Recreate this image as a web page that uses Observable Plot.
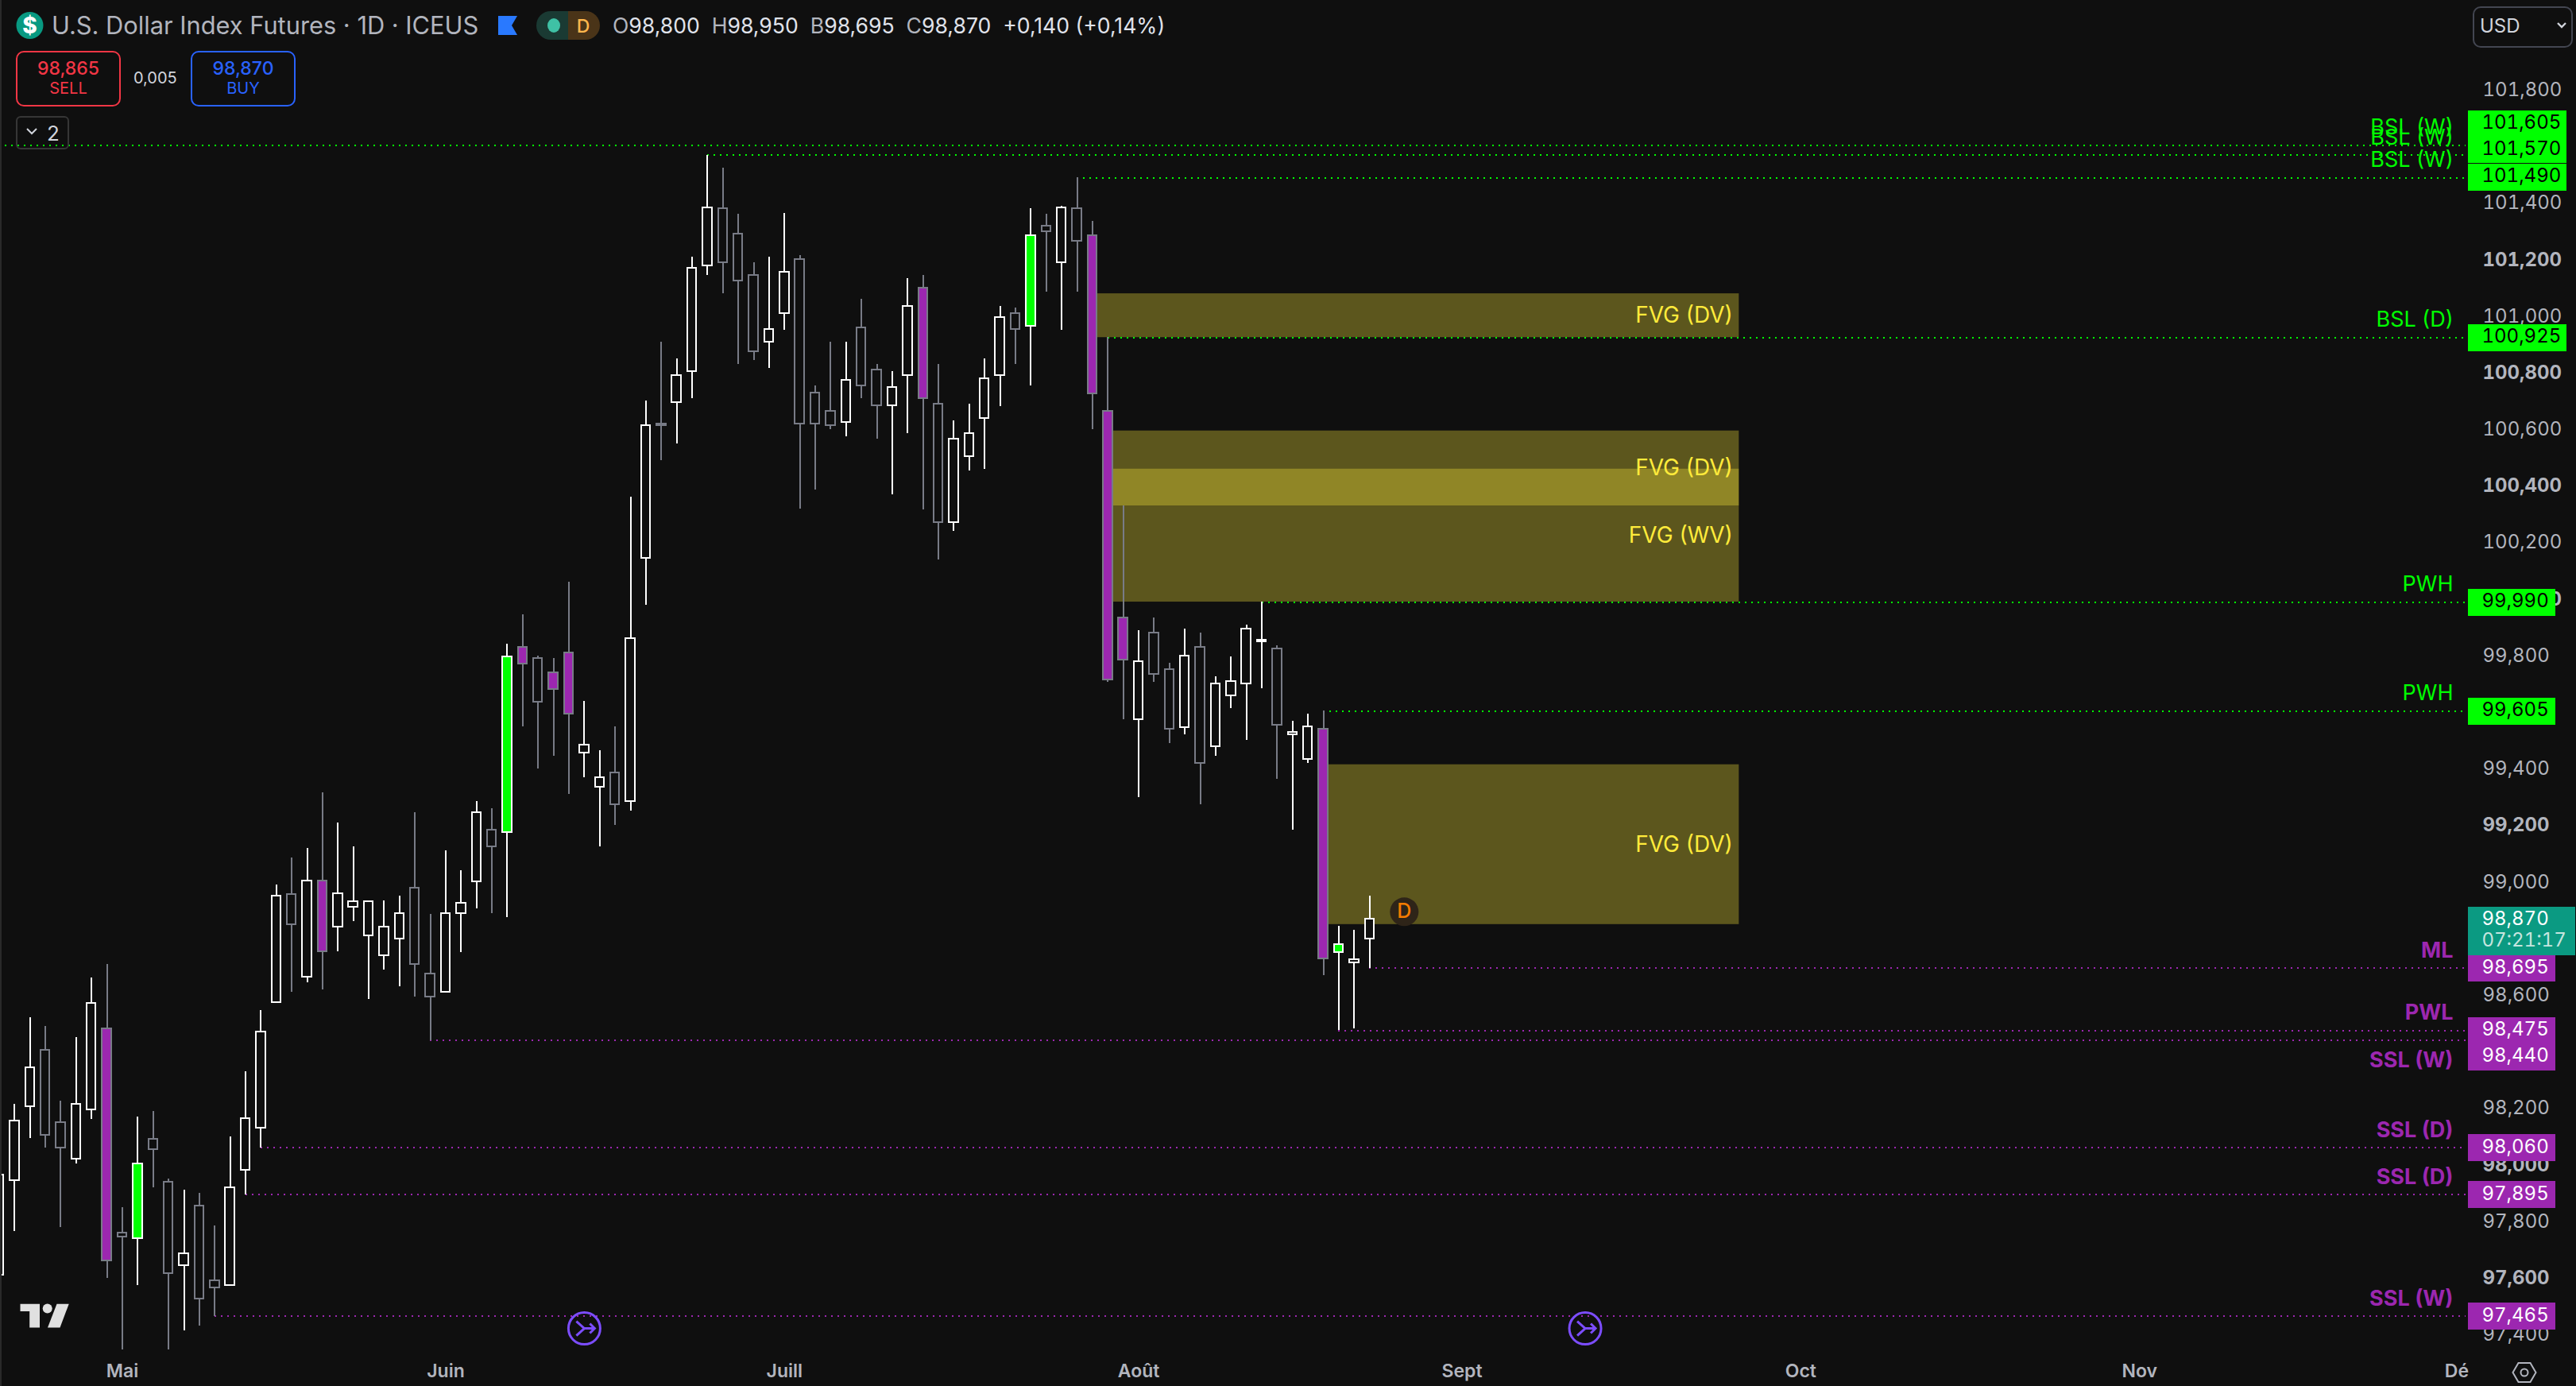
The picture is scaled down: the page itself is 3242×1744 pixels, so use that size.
<!DOCTYPE html>
<html lang="fr">
<head>
<meta charset="utf-8">
<title>U.S. Dollar Index Futures</title>
<script src="https://cdn.jsdelivr.net/npm/d3@7"></script>
<script src="https://cdn.jsdelivr.net/npm/@observablehq/plot@0.6"></script>
<style>
  html,body{margin:0;padding:0;background:#0f0f0f;}
  #stage{position:relative;width:3242px;height:1744px;overflow:hidden;font-family:Inter,"Noto Sans",sans-serif;}
  #stage svg{display:block;}
  .abs{position:absolute;white-space:nowrap;}
</style>
</head>
<body>
<div id="stage">
  <div id="chart"></div>

  <div class="abs" style="left:0;top:0;width:2px;height:1744px;background:#2a2a2a;"></div>
  <svg class="abs" style="left:0;top:0" width="760" height="60" viewBox="0 0 760 60">
    <circle cx="37.5" cy="32" r="17" fill="#089981"/>
    <text x="37.5" y="42" font-size="28" font-weight="800" fill="#fff" text-anchor="middle" font-family="Inter">$</text>
    <path d="M627 20H651L644 32L651 44H627Z" fill="#2979ff"/>
    <path d="M715 14H693A18 18 0 0 0 693 50H715Z" fill="#1a3a33"/>
    <path d="M715 14H737A18 18 0 0 1 737 50H715Z" fill="#4a3418"/>
    <ellipse cx="697" cy="32" rx="8" ry="9" fill="#3fc1a5"/>
    <text x="734" y="41" font-size="23" font-weight="500" fill="#ffb74d" text-anchor="middle" font-family="Inter">D</text>
  </svg>
  <div class="abs" style="left:65px;top:15px;font-size:30.8px;line-height:34px;color:#b2b5be;">U.S. Dollar Index Futures · 1D · ICEUS</div>
  <div class="abs" style="left:771px;top:17px;font-size:26.6px;line-height:30px;color:#e0e3eb;">
    <span style="color:#b2b5be">O</span>98,800&nbsp;<span style="color:#b2b5be"> H</span>98,950&nbsp;<span style="color:#b2b5be"> B</span>98,695&nbsp;<span style="color:#b2b5be"> C</span>98,870&nbsp; +0,140 (+0,14%)
  </div>

  <div class="abs" style="left:20px;top:64px;width:128px;height:66px;border:2px solid #f23645;border-radius:10px;text-align:center;color:#f23645;">
    <div style="font-size:23px;line-height:26px;margin-top:7px;font-weight:500;">98,865</div>
    <div style="font-size:20px;line-height:25px;">SELL</div>
  </div>
  <div class="abs" style="left:168px;top:86px;font-size:20px;line-height:24px;color:#d1d4dc;">0,005</div>
  <div class="abs" style="left:240px;top:64px;width:128px;height:66px;border:2px solid #2962ff;border-radius:10px;text-align:center;color:#2962ff;">
    <div style="font-size:23px;line-height:26px;margin-top:7px;font-weight:500;">98,870</div>
    <div style="font-size:20px;line-height:25px;">BUY</div>
  </div>
  <div class="abs" style="left:20px;top:146px;width:63px;height:38px;border:2px solid #363636;border-radius:6px;"></div>
  <svg class="abs" style="left:30px;top:158px" width="20" height="14"><path d="M4 4L10 10L16 4" stroke="#d1d4dc" stroke-width="2" fill="none"/></svg>
  <div class="abs" style="left:59px;top:153px;font-size:26px;line-height:30px;color:#d1d4dc;">2</div>

  <div class="abs" style="left:3112px;top:8px;width:122px;height:48px;border:2px solid #434651;border-radius:10px;"></div>
  <div class="abs" style="left:3121px;top:19px;font-size:24px;line-height:28px;color:#d1d4dc;">USD</div>
  <svg class="abs" style="left:3216px;top:26px" width="16" height="12"><path d="M3 3L8 8L13 3" stroke="#d1d4dc" stroke-width="2.4" fill="none"/></svg>

  <svg class="abs" style="left:25px;top:1640px" width="64" height="32" viewBox="25 1640 64 32">
    <path d="M25.5 1640.7H50V1670.5H37.2V1650H25.5Z" fill="#e0e0e0"/>
    <circle cx="59.7" cy="1646.4" r="6" fill="#e0e0e0"/>
    <path d="M71.5 1640.7H86.7L75.5 1670.5H60Z" fill="#e0e0e0"/>
  </svg>
  <svg class="abs" style="left:3160px;top:1712px" width="34" height="30" viewBox="0 0 34 30">
    <path d="M2.500 15L9.500 3H24.500L31.500 15L24.500 27H9.500Z" fill="none" stroke="#b2b5be" stroke-width="2"/>
    <circle cx="17" cy="15" r="4.500" fill="none" stroke="#b2b5be" stroke-width="2"/>
  </svg>
</div>

<script>
// Daily candles: index 0 is the partly hidden candle at the left edge
const opens  = [97610,97945,98205,98405,98150,98020,98195,98480,97760,97740,98090,97940,97645,97855,97590,97575,97980,98130,98575,98955,98665,99005,98840,98910,98810,98740,98800,98980,98675,98610,98890,99000,99185,99175,99830,99790,99740,99810,99455,99335,99385,99285,100145,100620,100695,100805,101180,101380,101290,101145,100910,101010,101200,100730,100665,100625,100960,100810,100685,100790,101100,100690,100270,100505,100640,100790,101010,100965,101320,101190,101380,101285,100665,99935,99575,99880,99750,99545,99830,99480,99660,99700,99850,99825,99520,99435,99540,98750,98715,98800];
const highs  = [98060,98215,98520,98490,98225,98450,98660,98710,97850,98170,98190,97950,97910,97900,97785,98100,98330,98545,98990,99085,99120,99315,99210,99125,98930,98935,98950,99245,98885,99110,99040,99285,99260,99840,99945,99800,99790,100060,99640,99465,99550,100360,100700,100910,100850,101210,101570,101525,101360,101190,101210,101365,101215,100755,100910,100910,101060,100830,100805,101135,101145,100830,100630,100690,100850,101035,101030,101380,101360,101390,101490,101335,100925,100330,99890,99935,99775,99895,99880,99725,99795,99910,99990,99835,99570,99595,99605,98845,98830,98950];
const lows   = [97400,97765,98095,98060,97780,98005,98160,97600,97345,97575,97920,97345,97415,97430,97465,97575,97895,98060,98575,98610,98645,98620,98755,98860,98585,98690,98630,98595,98440,98610,98750,98905,98890,98875,99550,99400,99445,99310,99370,99125,99200,99250,99980,100490,100550,100710,101145,101080,100830,100845,100815,100950,100320,100385,100600,100575,100710,100565,100370,100585,100315,100140,100240,100455,100460,100680,100830,100755,101085,100950,101085,100600,99705,99575,99300,99705,99490,99520,99275,99445,99615,99500,99685,99365,99185,99420,98670,98475,98480,98695];
const closes = [97965,98155,98345,98105,98060,98215,98570,97660,97745,98005,98055,97615,97685,97525,97565,97920,98165,98470,98950,98850,99005,98755,98960,98930,98930,98840,98890,98710,98595,98890,98925,99245,99125,99795,99770,99635,99680,99595,99485,99370,99275,99860,100615,100615,100790,101170,101385,101190,101125,100875,100955,101155,100620,100620,100615,100775,100755,100685,100750,101035,100710,100270,100565,100585,100780,100995,100955,101285,101300,101385,101265,100725,99715,99785,99780,99735,99540,99800,99420,99700,99710,99895,99855,99555,99530,99550,98730,98780,98725,98870];
// w = hollow white, g = hollow grey, p = purple, b = bright green
const candleKinds = ["w","w","w","g","g","w","w","p","g","b","g","g","w","g","g","w","w","w","w","g","w","p","w","w","w","w","w","g","g","w","w","w","g","b","p","g","p","p","w","w","g","w","w","g","w","w","w","g","g","g","w","w","g","g","g","w","g","g","w","w","p","g","w","w","w","w","g","b","g","w","g","p","p","p","w","g","g","w","g","w","w","w","w","g","w","w","p","b","w","w"];

const zoneLabels = ["FVG (DV)","FVG (DV)","FVG (WV)","FVG (DV)"];
const zoneTops   = [101080,100595,100460,99415];
const zoneBottoms= [100925,100330,99990,98850];
const zoneStarts = [70,71,71,85];
const zoneEnd = 112;

const levelPrices = [101605,101570,101490,100925,99990,99605,98695,98475,98440,98060,97895,97465];
const levelStarts = [-1,45,69,71,81,85,88,86,27,16,15,13];
const levelNames  = ["BSL (W)","BSL (W)","BSL (W)","BSL (D)","PWH","PWH","ML","PWL","SSL (W)","SSL (D)","SSL (D)","SSL (W)"];
const levelTagAt  = [101681,101589,101493,100925,99990,99605,98695,98475,98383,98060,97895,97465];
const levelBelow  = [98440];

const lastPrice = 98870;
const countdown = "07:21:17";
const plainTicks = [101800,101400,101000,100600,100200,99800,99400,99000,98600,98200,97800,97400];
const boldTicks  = [101200,100800,100400,100000,99200,98000,97600];
const monthTicks = [7,28,50,73,94,116,138,158.6];
const monthNames = ["Mai","Juin","Juill","Août","Sept","Oct","Nov","Dé"];
const eventSlots = [37,102];
const eventPrice = 97422;
const dividendSlot = 90.25;
const dividendPrice = 98895;

const BG = "#0f0f0f", GREEN = "#00ff00", PURPLE = "#9c27b0", GREY = "#787b86", YELLOW = "#ffeb3b";
const bodyHalf = 0.295, tagStart = 159.35, tagEnd5 = 165.03, tagEnd6 = 165.75, teal = "#0b9a82";

const candles = opens.map((o,k) => ({i:k-1,o,h:highs[k],l:lows[k],c:closes[k],kind:candleKinds[k]}));
const zones = zoneLabels.map((name,k) => ({name,top:zoneTops[k],bottom:zoneBottoms[k],start:zoneStarts[k]}));
const levels = levelPrices.map((p,k) => ({p,start:levelStarts[k],name:levelNames[k],tagAt:levelTagAt[k],color:p>99000?GREEN:PURPLE,ink:p>99000?"#000":"#fff"}));
const greenLevels = levels.filter(d => d.color===GREEN);
const purpleAbove = levels.filter(d => d.color===PURPLE && !levelBelow.includes(d.p));
const purpleBelow = levels.filter(d => levelBelow.includes(d.p));

const outline = d => d.kind==="w"||d.kind==="b" ? "#ffffff" : GREY;
const bodyFill = d => d.kind==="p" ? PURPLE : d.kind==="b" ? GREEN : BG;

const eventSymbol = {draw(ctx,size){
  const r = Math.sqrt(size/Math.PI);
  ctx.moveTo(r,0); ctx.arc(0,0,r,0,Math.PI*2);
  ctx.moveTo(-10,-9); ctx.lineTo(0,0); ctx.lineTo(13,0);
  ctx.moveTo(-10,9); ctx.lineTo(0,0);
  ctx.moveTo(7,-6); ctx.lineTo(13,0); ctx.lineTo(7,6);
}};

const chart = Plot.plot({
  width:3242, height:1744,
  marginLeft:0, marginRight:138, marginTop:0, marginBottom:44,
  x:{domain:[-0.9216,159.25], axis:null},
  y:{domain:[97340.7,102117], axis:null},
  style:{background:BG, fontFamily:"Inter, sans-serif", overflow:"hidden"},
  marks:[
    Plot.rect(zones,{x1:"start",x2:()=>zoneEnd,y1:"bottom",y2:"top",fill:YELLOW,fillOpacity:0.32}),
    Plot.ruleY(levels,{y:"p",x1:"start",x2:()=>159.2,stroke:"color",strokeWidth:2,strokeDasharray:"2 6",shapeRendering:"crispEdges"}),
    Plot.ruleX(candles,{x:"i",y1:"l",y2:"h",stroke:outline,strokeWidth:2,shapeRendering:"crispEdges"}),
    Plot.rect(candles,{x1:d=>d.i-bodyHalf,x2:d=>d.i+bodyHalf,y1:"o",y2:"c",fill:bodyFill,stroke:outline,strokeWidth:2,shapeRendering:"crispEdges"}),

    Plot.text(zones,{x:()=>zoneEnd,y:d=>(d.top+d.bottom)/2,text:"name",textAnchor:"end",dx:-8,fill:YELLOW,fontSize:28}),

    Plot.text(greenLevels,{x:()=>159.25,y:"p",text:"name",textAnchor:"end",dx:-17,dy:-22,fill:"color",fontSize:27}),
    Plot.text(purpleAbove,{x:()=>159.25,y:"p",text:"name",textAnchor:"end",dx:-17,dy:-22,fill:"color",fontSize:27,fontWeight:700}),
    Plot.text(purpleBelow,{x:()=>159.25,y:"p",text:"name",textAnchor:"end",dx:-17,dy:25,fill:"color",fontSize:27,fontWeight:700}),

    Plot.dot(eventSlots,{x:d=>d,y:()=>eventPrice,symbol:eventSymbol,r:20,stroke:"#7c4dff",strokeWidth:3,fill:"none"}),
    Plot.dot([dividendSlot],{x:d=>d,y:()=>dividendPrice,r:18,fill:"#2e2418"}),
    Plot.text([dividendSlot],{x:d=>d,y:()=>dividendPrice,text:()=>"D",fill:"#f57c00",fontSize:25,fontWeight:500}),

    Plot.axisY({ticks:plainTicks,anchor:"right",tickSize:0,tickPadding:20,tickFormat:d3.format(","),fontSize:24,color:"#b2b5be",label:null}),
    Plot.axisY({ticks:boldTicks,anchor:"right",tickSize:0,tickPadding:20,tickFormat:d3.format(","),fontSize:24,fontWeight:700,color:"#b2b5be",label:null}),
    Plot.axisX({ticks:monthTicks,anchor:"bottom",tickSize:0,tickPadding:16,tickFormat:d=>monthNames[monthTicks.indexOf(d)],fontSize:23,fontWeight:600,color:"#b2b5be",label:null}),

    Plot.ruleY(levels,{y:"tagAt",x1:()=>tagStart,x2:d=>d.p>=100000?tagEnd6:tagEnd5,stroke:"color",strokeWidth:34,shapeRendering:"crispEdges"}),
    Plot.text(levels,{x:()=>tagStart,y:"tagAt",text:d=>d3.format(",")(d.p),textAnchor:"start",dx:17,fill:"ink",fontSize:24,fontVariant:"tabular-nums",dy:-1}),

    Plot.ruleY([lastPrice],{x1:()=>tagStart,x2:()=>166.3,stroke:teal,strokeWidth:61,dy:15,shapeRendering:"crispEdges"}),
    Plot.text([lastPrice],{x:()=>tagStart,y:d=>d,text:d=>d3.format(",")(d),textAnchor:"start",dx:17,fill:"#fff",fontSize:24,fontVariant:"tabular-nums"}),
    Plot.text([countdown],{x:()=>tagStart,y:()=>lastPrice,text:d=>d,textAnchor:"start",dx:17,dy:27,fill:"#c6e5df",fontSize:24,fontVariant:"tabular-nums"})
  ]
});
document.getElementById("chart").appendChild(chart);
</script>
</body>
</html>
